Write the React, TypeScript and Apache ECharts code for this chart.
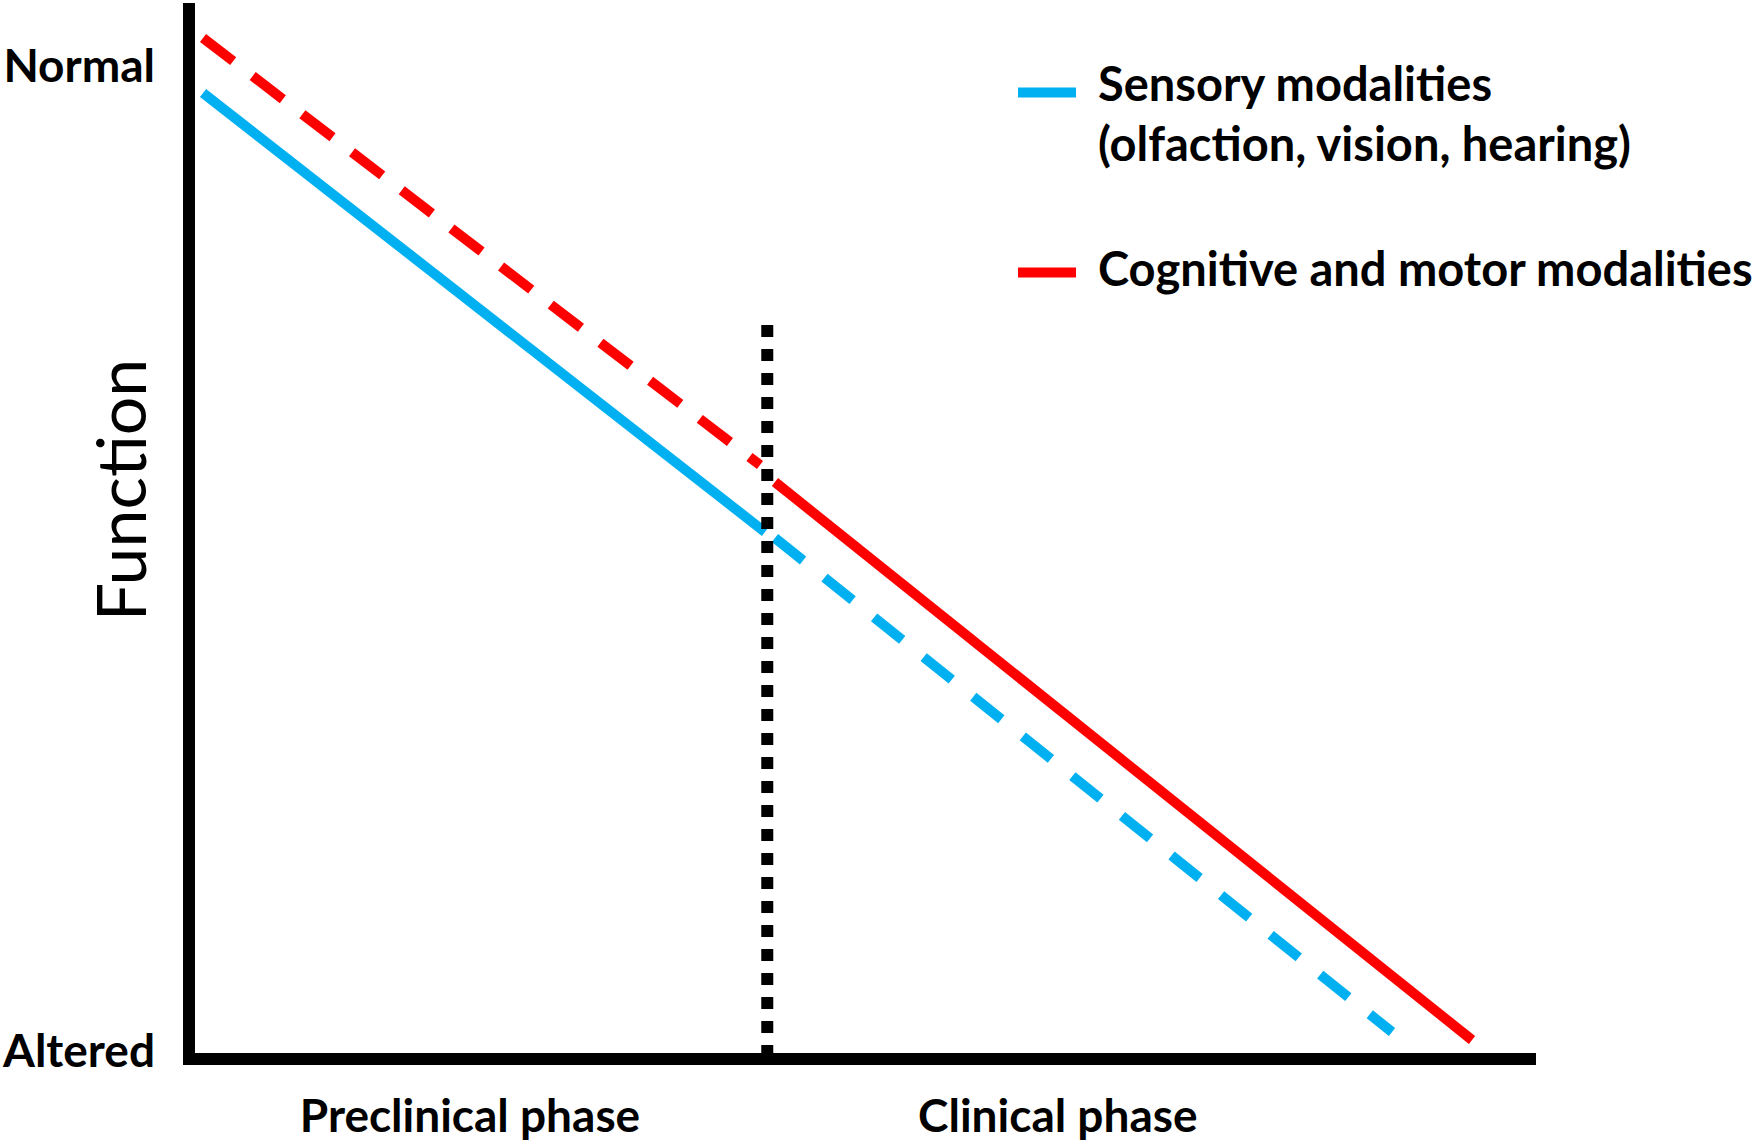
import React, { useEffect, useRef } from 'react';
import * as echarts from 'echarts';

const SENSORY = 'Sensory modalities (olfaction, vision, hearing)';
const COGNITIVE = 'Cognitive and motor modalities';
// rich text: small spacer lines set the text level with the legend icon as in the reference
const SENSORY_LEGEND = '{sp| }\n{t|Sensory modalities}\n{t|(olfaction, vision, hearing)}';
const COGNITIVE_LEGEND = '{t|Cognitive and motor modalities}\n{sp2| }';

// [x, y] in a 0-100 "time" x 0-100 "function" space
const sensorySolid = [[1.04, 92.0], [42.76, 50.19]];
const sensoryDashed = [[43.5, 49.62], [89.31, 2.57]];
const cognitiveDashed = [[1.04, 97.24], [42.39, 56.57]];
const cognitiveSolid = [[43.5, 54.95], [95.25, 1.81]];
const phaseBoundary = [[42.93, 69.9], [42.93, 0]];

const yTickValues = [0.95, 94.7];
const yTickLabels = ['Altered', 'Normal'];
const xTickValues = [20.86, 64.5];
const xTickLabels = ['Preclinical phase', 'Clinical phase'];

const BLUE = '#00B0F0';
const RED = '#FF0000';
const FONT = 'Lato, "Open Sans", sans-serif';

function pick(values: number[], labels: string[], v: number): string {
  let best = 0;
  for (let i = 1; i < values.length; i++) {
    if (Math.abs(values[i] - v) < Math.abs(values[best] - v)) best = i;
  }
  return labels[best];
}

export default function App() {
  const ref = useRef<HTMLDivElement>(null);
  useEffect(() => {
    if (!ref.current) return;
    const chart = echarts.init(ref.current, null, { renderer: 'svg' });
    const labelText = { fontFamily: FONT, fontWeight: 'bold' as const, fontSize: 46, color: '#000' };
    const rich = {
      t: { fontFamily: FONT, fontWeight: 'bold' as const, fontSize: 47, lineHeight: 60, color: '#000' },
      sp: { fontSize: 1, lineHeight: 40 },
      sp2: { fontSize: 1, lineHeight: 10 },
    };
    const legendBase = {
      selectedMode: false,
      orient: 'vertical',
      left: 1018,
      padding: 0,
      icon: 'rect',
      itemWidth: 58,
      itemHeight: 10,
      itemStyle: { borderWidth: 0 },
      textStyle: { ...labelText, fontSize: 47, padding: [0, 0, 0, 17], rich },
    };
    chart.setOption({
      animation: false,
      backgroundColor: '#fff',
      grid: { left: 189, right: 216, top: 9, bottom: 85, containLabel: false, outerBoundsMode: 'none' },
      legend: [
        { ...legendBase, top: 32, data: [SENSORY], formatter: () => SENSORY_LEGEND },
        { ...legendBase, top: 244, data: [COGNITIVE], formatter: () => COGNITIVE_LEGEND },
      ],
      xAxis: {
        type: 'value',
        min: 0,
        max: 100,
        axisLine: { show: true, lineStyle: { color: '#000', width: 12, cap: 'butt' } },
        axisTick: { show: false },
        splitLine: { show: false },
        axisLabel: {
          ...labelText,
          customValues: xTickValues,
          margin: 32,
          formatter: (v: number) => pick(xTickValues, xTickLabels, v),
        },
      },
      yAxis: {
        type: 'value',
        min: 0,
        max: 100,
        name: 'Function',
        nameLocation: 'middle',
        nameRotate: 90,
        nameGap: 36,
        nameMoveOverlap: false,
        nameTextStyle: { fontFamily: FONT, fontSize: 68, fontWeight: 'normal', color: '#000', padding: [0, 0, 0, 88] },
        axisLine: { show: true, lineStyle: { color: '#000', width: 12, cap: 'square' } },
        axisTick: { show: false },
        splitLine: { show: false },
        axisLabel: {
          ...labelText,
          customValues: yTickValues,
          margin: 34,
          formatter: (v: number) => pick(yTickValues, yTickLabels, v),
        },
      },
      series: [
        {
          type: 'line', name: SENSORY, data: sensorySolid, symbol: 'none', silent: true,
          itemStyle: { color: BLUE }, lineStyle: { color: BLUE, width: 10, type: 'solid', cap: 'butt' }, z: 2,
        },
        {
          type: 'line', name: COGNITIVE, data: cognitiveSolid, symbol: 'none', silent: true,
          itemStyle: { color: RED }, lineStyle: { color: RED, width: 10, type: 'solid', cap: 'butt' }, z: 2,
        },
        {
          type: 'line', name: SENSORY, data: sensoryDashed, symbol: 'none', silent: true,
          itemStyle: { color: BLUE }, lineStyle: { color: BLUE, width: 10, type: [36, 27.5], cap: 'butt' }, z: 2,
        },
        {
          type: 'line', name: COGNITIVE, data: cognitiveDashed, symbol: 'none', silent: true,
          itemStyle: { color: RED }, lineStyle: { color: RED, width: 10, type: [38, 24.6], cap: 'butt' }, z: 2,
        },
        {
          type: 'line', name: 'Phase boundary', data: phaseBoundary, symbol: 'none', silent: true,
          itemStyle: { color: '#000' }, lineStyle: { color: '#000', width: 12, type: [12, 12], cap: 'butt' }, z: 3,
        },
      ],
    });
    return () => chart.dispose();
  }, []);
  return <div ref={ref} style={{ position: 'fixed', left: 0, top: 0, width: 1752, height: 1144 }} />;
}
